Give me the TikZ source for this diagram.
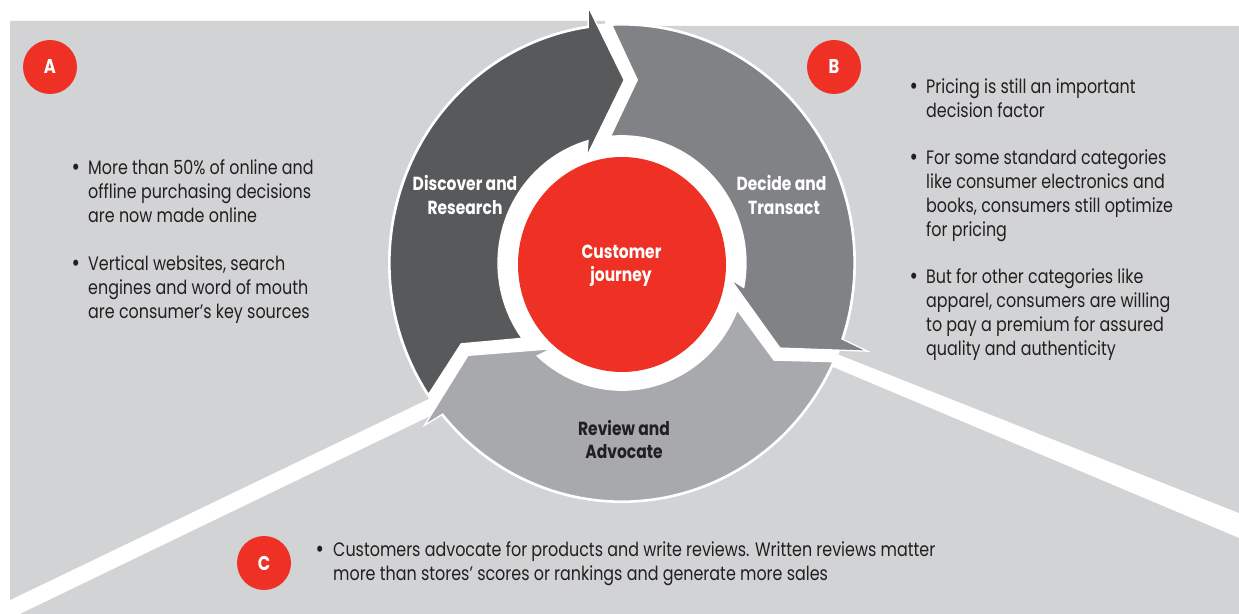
\documentclass[tikz,border=0pt]{standalone}
\usepackage{fontspec}
\setmainfont{Poppins}[FakeStretch=0.82]
\definecolor{bggray}{HTML}{D1D3D4}
\definecolor{darkarr}{HTML}{58595B}
\definecolor{midarr}{HTML}{808285}
\definecolor{lightarr}{HTML}{A7A9AC}
\definecolor{jred}{HTML}{EE3124}
\definecolor{txt}{HTML}{231F20}
\newcommand\jbody{\fontsize{19.5}{24}\selectfont}
\newcommand\jbul{\fontsize{25}{24}\selectfont}
\newcommand\jlab{\fontsize{19}{24}\selectfont\bfseries}
\newcommand\jbadge{\fontsize{20}{20}\selectfont\bfseries}
% #1 head rotation, #2 tail rotation, #3 colour, #4 outer barb radius
\newcommand\ringarrow[4]{%
  \filldraw[fill=#3, draw=white, line width=1.3bp, line join=miter]
    ({#2+92.5}:232) arc[start angle={#2+92.5}, end angle={#1+98.4}, radius=232]
    -- ({#1+97.7}:#4) -- ({#1+89.3}:178.4) -- ({#1+108.8}:109.5) -- ({#1+105.9}:124)
    arc[start angle={#1+105.9}, end angle={#2+95.3}, radius=124]
    -- ({#2+85.1}:179.1) -- cycle;}
\begin{document}
\begin{tikzpicture}[x=1bp, y=-1bp,
  body/.style={anchor=base west, inner sep=0, text=txt, font=\jbody},
  bul/.style={anchor=base west, inner sep=0, text=txt, font=\jbul},
  lab/.style={anchor=base, inner sep=0, text=white, font=\jlab},
  badge/.style={circle, fill=jred, minimum size=54bp, inner sep=0, text=white, font=\jbadge}]
\useasboundingbox (0,0) rectangle (1239,614);
\fill[white] (0,0) rectangle (1239,614);
% panels
\fill[bggray] (10,21) -- (605,21) -- (622,263) -- (445,391) -- (10,600) -- cycle;
\fill[bggray] (613,26) -- (1239,26) -- (1239,513) -- (827,350) -- (622,263) -- cycle;
\fill[bggray] (20,614) -- (445,409) -- (622,263) -- (828,365) -- (1239,538) -- (1239,614) -- cycle;
% ring
\fill[white] (622,263) ellipse[x radius=234, y radius=240];
\begin{scope}[shift={(622,263)}, yscale=-1.026]
  \ringarrow{0}{121}{darkarr}{252}
  \ringarrow{-117}{0}{midarr}{260}
  \ringarrow{121}{243}{lightarr}{253}
\end{scope}
\fill[jred] (622,264.5) ellipse[x radius=104, y radius=107.5];
% ring labels
\node[lab] (d1) at (465,191) {Discover and};
\node[lab] (d2) at (465,215) {Research};
\node[lab] (t1) at (781.5,191) {Decide and};
\node[lab] (t2) at (784,215) {Transact};
\node[lab] (c1) at (621.5,259) {Customer};
\node[lab] (c2) at (621,282) {journey};
\node[lab, text=txt] (r1) at (624,435) {Review and};
\node[lab, text=txt] (r2) at (624,458) {Advocate};
% badges
\node[badge] (bA) at (50,67) {A};
\node[badge] (bB) at (834,67) {B};
\node[badge] (bC) at (264,563) {C};
% panel A text
\node[bul] (a0) at (71.5,176) {•};
\node[body] (a1) at (88,175) {More than 50\% of online and};
\node[body] (a2) at (88,199) {offline purchasing decisions};
\node[body] (a3) at (88,223) {are now made online};
\node[bul] (a4) at (71.5,272) {•};
\node[body] (a5) at (88,271) {Vertical websites, search};
\node[body] (a6) at (88,295) {engines and word of mouth};
\node[body] (a7) at (88,319) {are consumer’s key sources};
% panel B text
\node[bul] (b0) at (909.5,95) {•};
\node[body] (b1) at (926,94) {Pricing is still an important};
\node[body] (b2) at (926,118) {decision factor};
\node[bul] (b3) at (909.5,166) {•};
\node[body] (b4) at (926,165) {For some standard categories};
\node[body] (b5) at (926,189) {like consumer electronics and};
\node[body] (b6) at (926,213) {books, consumers still optimize};
\node[body] (b7) at (926,237) {for pricing};
\node[bul] (b8) at (909.5,285) {•};
\node[body] (b9) at (926,284) {But for other categories like};
\node[body] (b10) at (926,308) {apparel, consumers are willing};
\node[body] (b11) at (926,332) {to pay a premium for assured};
\node[body] (b12) at (926,356) {quality and authenticity};
% panel C text
\node[bul] (e0) at (315.5,557) {•};
\node[body] (e1) at (333,556) {Customers advocate for products and write reviews. Written reviews matter};
\node[body] (e2) at (333,580) {more than stores’ scores or rankings and generate more sales};
\end{tikzpicture}
\end{document}
